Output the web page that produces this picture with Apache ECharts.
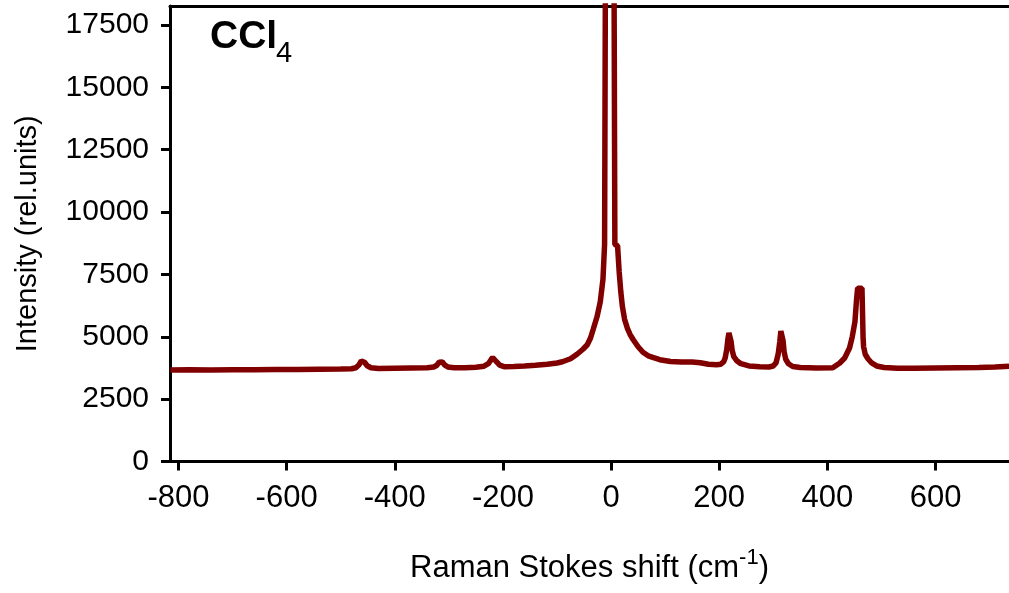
<!DOCTYPE html>
<html>
<head>
<meta charset="utf-8">
<script src="https://cdn.jsdelivr.net/npm/echarts@6/dist/echarts.min.js"></script>
<style>
html,body{margin:0;padding:0;background:#fff;}
#chart{width:1009px;height:593px;}
</style>
</head>
<body>
<div id="chart"></div>
<script>
// Raman shift (cm-1)
const shift = [
 -815,-780,-740,-700,-660,-620,-580,-540,-500,-480,-472,-466,-462,-459,-456,-451,-444,-430,
 -400,-370,-340,-328,-322,-318,-315,-312,-308,-302,-290,-270,-250,-235,-227,-222,-219,-216,
 -212,-206,-198,-180,-160,-140,-118,-100,-90,-75,-63,-52,-44,-38,-33,-26,-20,-15,-12,-9,
 4,7,12,15,18,21,25,30,35,41,50,59,70,90,110,130,150,165,180,195,203,208,211,214,216,218,
 220,222,224,227,232,240,255,275,292,300,305,309,312,314,316,318,320,323,328,336,350,380,
 410,423,432,441,446,451,454,456,464,465,466,467,470,475,482,491,505,530,560,600,640,680,710,736
];
// Intensity (rel. units)
const intensity = [
 3670,3680,3670,3680,3680,3690,3690,3700,3710,3720,3760,3880,4030,4060,3980,3840,3760,3730,
 3740,3750,3760,3790,3860,3980,4040,3990,3870,3790,3760,3760,3780,3820,3920,4080,4170,4130,
 4000,3860,3800,3810,3830,3860,3900,3950,4000,4120,4300,4500,4680,4950,5300,5800,6400,7300,8700,30000,
 30000,8700,8650,7600,6800,6200,5700,5350,5100,4880,4600,4380,4220,4080,4010,3990,3990,3960,3900,3880,3900,3990,4150,4500,4900,5150,
 5100,4800,4450,4200,4050,3920,3830,3800,3790,3830,3950,4300,4800,5230,5200,4850,4400,4100,3920,3810,3770,3750,
 3760,3950,4150,4550,5000,5600,6500,6950,6950,6000,5000,4600,4300,4120,3950,3830,3770,3740,3740,3750,3760,3770,3790,3820
];
const xTicks = [-800,-600,-400,-200,0,200,400,600];
const yTicks = [0,2500,5000,7500,10000,12500,15000,17500];

const FONT = "'Liberation Sans', Arial, sans-serif";
const data = shift.map((s,i)=>[s,intensity[i]]);

const chart = echarts.init(document.getElementById('chart'), null, {renderer:'canvas'});
chart.setOption({
  animation:false,
  backgroundColor:'#fff',
  title:[
    {text:'CCl', left:205, top:13, textStyle:{fontFamily:FONT, fontSize:39, fontWeight:'bold', color:'#000'}},
    {text:'4', left:271, top:34, textStyle:{fontFamily:FONT, fontSize:29, fontWeight:'normal', color:'#000'}}
  ],
  grid:{left:170, right:0, top:6, bottom:131.5, containLabel:false},
  xAxis:[{
    type:'value', min:-815.7, max:735.9, position:'bottom',
    axisLine:{show:true, onZero:false, lineStyle:{color:'#000', width:3}},
    axisTick:{show:true, inside:false, length:9, customValues:xTicks, lineStyle:{color:'#000', width:3}},
    axisLabel:{customValues:xTicks, margin:21, color:'#000', fontFamily:FONT, fontSize:31,
      formatter:(v)=>String(v)},
    splitLine:{show:false},
    name:'{m|Raman Stokes shift (cm}{s|-1}{m|)}',
    nameLocation:'middle', nameGap:85,
    nameTextStyle:{rich:{
      m:{fontFamily:FONT, fontSize:31, color:'#000', lineHeight:44},
      s:{fontFamily:FONT, fontSize:22, color:'#000', lineHeight:20, verticalAlign:'top'}
    }}
  },{
    type:'value', min:-815.7, max:735.9, position:'top',
    axisLine:{show:true, onZero:false, lineStyle:{color:'#000', width:3}},
    axisTick:{show:false}, axisLabel:{show:false}, splitLine:{show:false}
  }],
  yAxis:{
    type:'value', min:0, max:18260,
    axisLine:{show:true, onZero:false, lineStyle:{color:'#000', width:3}},
    axisTick:{show:true, inside:false, length:9, customValues:yTicks, lineStyle:{color:'#000', width:3}},
    axisLabel:{customValues:yTicks, margin:21, color:'#000', fontFamily:FONT, fontSize:30,
      formatter:(v)=>String(v)},
    splitLine:{show:false},
    name:'Intensity (rel.units)', nameLocation:'middle', nameGap:128,
    nameTextStyle:{fontFamily:FONT, fontSize:29, color:'#000'}
  },
  series:[{
    type:'line', xAxisIndex:0, data:data, showSymbol:false, clip:true,
    lineStyle:{color:'#800000', width:5.5}
  }]
});
</script>
</body>
</html>
